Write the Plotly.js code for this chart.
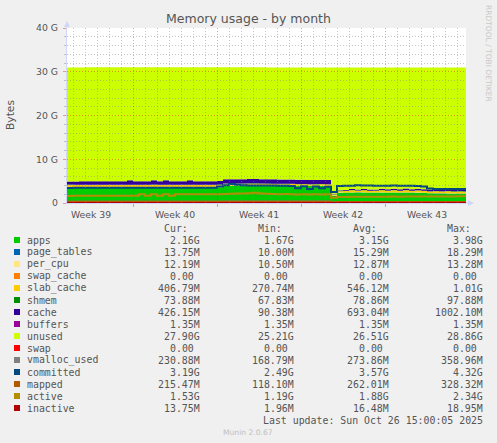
<!DOCTYPE html>
<html><head><meta charset="utf-8">
<script src="https://cdn.plot.ly/plotly-3.0.1.min.js"></script>
<style>html,body{margin:0;padding:0;background:#f0f0f0;}#chart{width:497px;height:443px;}</style>
</head><body><div id="chart"></div>
<script>
// ---------- data (values in G) ----------
const startTime = '2025-09-23 12:00';
const endTime = '2025-10-26 18:00';
const weekTickTimes = ['2025-09-25 12:00','2025-10-02 12:00','2025-10-09 12:00','2025-10-16 12:00','2025-10-23 12:00'];
const weekLabels = ['Week 39','Week 40','Week 41','Week 42','Week 43'];
const yTickVals = [0,10,20,30,40];
const yTickText = ['0','10 G','20 G','30 G','40 G'];

const apps = [3.50,3.52,3.55,3.55,3.54,3.55,3.56,3.55,3.55,3.54,3.56,3.55,3.55,3.54,3.56,3.55,3.56,3.55,3.55,3.54,3.56,3.55,3.55,3.54,3.55,3.58,
  3.90,3.92,3.93,3.95,3.96,3.98,3.95,3.93,3.92,3.90,3.90,3.92,3.88,3.90,3.86,3.88,3.90,3.87,
  1.67,
  2.35,2.38,2.40,2.42,2.40,2.38,2.40,2.41,2.40,2.38,2.37,2.38,2.36,2.35,2.33,
  2.22,2.20,2.20,2.18,2.18,2.17,2.16,2.16];
const slabCache = [0.60,0.55,0.52,0.52,0.53,0.52,0.51,0.52,0.53,0.52,0.52,0.51,0.52,0.52,0.53,0.52,0.52,0.51,0.52,0.53,0.52,0.52,0.51,0.52,0.52,0.50,
  0.45,0.44,0.43,0.42,0.42,0.41,0.40,0.40,0.39,0.38,0.38,0.37,0.37,0.36,0.36,0.35,0.35,0.35,
  0.27,
  0.32,0.33,0.48,0.33,0.48,0.34,0.33,0.48,0.34,0.48,0.34,0.48,0.35,0.48,0.36,
  0.37,0.47,0.38,0.47,0.39,0.46,0.407,0.407];
const cache = [0.70,0.75,0.78,0.78,0.78,0.79,0.78,0.78,0.78,0.79,1.00,0.79,0.78,0.78,1.00,0.79,1.00,0.80,0.80,0.80,0.98,0.80,0.80,0.81,0.80,0.82,
  0.95,0.96,0.97,0.97,0.98,0.98,0.99,1.00,0.99,0.98,0.98,0.97,0.98,0.97,0.97,0.96,0.96,0.95,
  0.09,
  0.15,0.18,0.20,0.22,0.24,0.25,0.27,0.28,0.30,0.31,0.32,0.33,0.34,0.35,0.36,
  0.37,0.38,0.39,0.40,0.41,0.42,0.426,0.426];
const unused = [26.09,26.07,26.04,26.04,26.04,26.03,26.04,26.04,26.03,26.04,25.81,26.04,26.04,26.05,25.80,26.03,25.81,26.03,26.02,26.02,25.83,26.02,26.03,26.02,26.02,25.99,
  25.59,25.57,25.56,25.55,25.53,25.52,25.55,25.56,25.59,25.63,25.63,25.63,25.66,25.66,25.70,25.70,25.68,25.72,
  28.86,
  28.07,28.00,27.81,27.92,27.77,27.92,27.89,27.72,27.85,27.72,27.86,27.70,27.84,27.71,27.84,
  27.93,27.84,27.92,27.84,27.91,27.84,27.90,27.90];
const committed = [3.45,3.46,3.47,3.47,3.48,3.47,3.46,3.47,3.48,3.47,3.47,3.46,3.47,3.48,3.47,3.47,3.46,3.47,3.48,3.47,3.47,3.46,3.47,3.48,3.50,
  3.75,
  4.05,4.32,4.15,4.05,4.00,4.02,4.00,3.98,4.00,3.97,3.95,
  3.90,3.35,3.85,3.20,3.80,3.35,3.70,
  2.49,
  3.90,3.92,3.95,4.05,4.00,3.98,3.97,3.96,3.97,3.98,3.96,3.95,3.95,3.90,3.80,
  3.30,3.22,3.20,3.20,3.21,3.20,3.19,3.19];
const active = [1.62,1.64,1.65,1.65,1.66,1.65,1.64,1.65,1.66,1.65,1.65,1.64,
  2.00,1.66,2.02,1.66,2.02,1.68,
  2.00,2.02,2.00,2.01,2.00,2.02,2.00,2.02,
  2.05,2.10,2.15,2.20,2.25,2.34,2.20,2.10,2.05,2.00,2.05,2.00,1.95,2.00,1.92,2.00,1.95,1.98,
  1.19,
  1.38,1.40,1.42,1.43,1.42,1.44,1.43,1.45,1.44,1.46,1.45,1.47,1.46,1.48,1.47,
  1.48,1.50,1.49,1.51,1.50,1.52,1.53,1.53];

// small series, sampled at fewer points
const sparseIdx = [0,26,44,45,60,67];
const pageTables = [0.017,0.018,0.0098,0.014,0.0135,0.0134];
const perCpu = [0.0125,0.013,0.0103,0.0125,0.012,0.0119];
const swapCache = [0,0,0,0,0,0];
const shmem = [0.078,0.09,0.066,0.075,0.073,0.072];
const buffers = [0.00132,0.00132,0.00132,0.00132,0.00132,0.00132];
const swap = [0,0,0,0,0,0];
const vmallocUsed = [0.29,0.33,0.165,0.24,0.23,0.225];
const mapped = [0.29,0.31,0.115,0.21,0.21,0.21];
const inactive = [0.018,0.018,0.002,0.017,0.014,0.0134];

// legend table
const names = ['apps','page_tables','per_cpu','swap_cache','slab_cache','shmem','cache','buffers','unused','swap','vmalloc_used','committed','mapped','active','inactive'];
const colors = ['#00CC00','#0066B3','#FFE680','#FF8000','#FFCC00','#008F00','#330099','#990099','#CCFF00','#FF0000','#808080','#00487D','#B35A00','#B38F00','#B30000'];
const curVals = ['2.16G','13.75M','12.19M','0.00','406.79M','73.88M','426.15M','1.35M','27.90G','0.00','230.88M','3.19G','215.47M','1.53G','13.75M'];
const minVals = ['1.67G','10.00M','10.50M','0.00','270.74M','67.83M','90.38M','1.35M','25.21G','0.00','168.79M','2.49G','118.10M','1.19G','1.96M'];
const avgVals = ['3.15G','15.29M','12.87M','0.00','546.12M','78.86M','693.04M','1.35M','26.51G','0.00','273.86M','3.57G','262.01M','1.88G','16.48M'];
const maxVals = ['3.98G','18.29M','13.28M','0.00','1.01G','97.88M','1002.10M','1.35M','28.86G','0.00','358.96M','4.32G','328.32M','2.34G','18.95M'];
const headers = ['Cur:','Min:','Avg:','Max:'];
const lastUpdate = 'Last update: Sun Oct 26 15:00:05 2025';

// ---------- build ----------
function tAt(i){
  if (i >= 67) return endTime;
  const ms = Date.UTC(2025,8,23,12) + i*12*3600*1000;
  return new Date(ms).toISOString().slice(0,16).replace('T',' ');
}
const times = apps.map((_, i) => tAt(i));
const sparseTimes = sparseIdx.map(tAt);

const stackSeries = [
  [apps, times], [pageTables, sparseTimes], [perCpu, sparseTimes], [swapCache, sparseTimes],
  [slabCache, times], [shmem, sparseTimes], [cache, times], [buffers, sparseTimes],
  [unused, times], [swap, sparseTimes]
];
const lineSeries = [
  [vmallocUsed, sparseTimes, 10], [committed, times, 11], [mapped, sparseTimes, 12],
  [active, times, 13], [inactive, sparseTimes, 14]
];
const traces = [];
stackSeries.forEach((s, k) => {
  traces.push({type:'scatter', mode:'lines', x:s[1], y:s[0], name:names[k],
    stackgroup:'mem', stackgaps:'interpolate', fillcolor:colors[k],
    line:{width:0, shape:'hv', color:colors[k]}, hoverinfo:'skip', xaxis:'x', yaxis:'y'});
});
lineSeries.forEach(s => {
  traces.push({type:'scatter', mode:'lines', x:s[1], y:s[0], name:names[s[2]],
    line:{width:2, shape:'hv', color:colors[s[2]]}, hoverinfo:'skip', xaxis:'x', yaxis:'y'});
});
// empty trace to register the grid subplot drawn above the data
traces.push({type:'scatter', mode:'lines', x:[], y:[], xaxis:'x2', yaxis:'y2', hoverinfo:'skip', showlegend:false});

const PL = 67, PR = 466, PT = 28, PB = 203;
const px = v => (v - PL) / (PR - PL);
const py = v => (PB - v) / (PB - PT);

const FONT = 'DejaVu Sans, Verdana, sans-serif';
const MONO = 'DejaVu Sans Mono, monospace';
const TXT = '#555555';

const annotations = [];
const shapes = [];
// white canvas under the data (plot backgrounds are transparent so the grid subplot does not hide the data)
shapes.push({type:'rect', xref:'paper', yref:'paper', x0:0, x1:1, y0:0, y1:1, layer:'below',
  fillcolor:'#ffffff', line:{width:0}});
function ann(text, x, y, xanchor, opts){
  annotations.push(Object.assign({text:text, xref:'paper', yref:'paper', x:px(x), y:py(y),
    xanchor:xanchor, yanchor:'middle', showarrow:false, borderpad:0, borderwidth:0,
    font:{family:MONO, size:9.9, color:TXT}}, opts||{}));
}
const colRight = [199.5, 294, 388.5, 483];
const pad = v => /[0-9]$/.test(v) ? v + '\u00a0' : v;
headers.forEach((h, c) => ann(h + '\u00a0\u00a0', colRight[c], 228, 'right'));
names.forEach((n, k) => {
  const y = 240 + 12*k;
  ann(n, 26.5, y, 'left');
  [curVals, minVals, avgVals, maxVals].forEach((arr, c) => ann(pad(arr[k]), colRight[c], y, 'right'));
  shapes.push({type:'rect', xref:'paper', yref:'paper', x0:px(14), x1:px(20), y0:py(y+3), y1:py(y-3),
    fillcolor:colors[k], line:{width:0}, layer:'above'});
});
ann(lastUpdate, 483, 420, 'right');
ann('Munin 2.0.67', 248, 432, 'center', {font:{family:FONT, size:7.6, color:'#c0c0c0'}});
ann('RRDTOOL / TOBI OETIKER', 488.5, 53.5, 'center', {textangle:90, font:{family:FONT, size:7.5, color:'#c8c8c8'}});
ann('Bytes', 10.5, 115.5, 'center', {textangle:-90, font:{family:FONT, size:10.7, color:TXT}});

// axis arrows
const AX = '#cfd6f8';
shapes.push({type:'path', xref:'paper', yref:'paper', layer:'above', fillcolor:AX, line:{width:0},
  path:`M ${px(64)} ${py(27)} L ${px(70)} ${py(27)} L ${px(67)} ${py(21)} Z`});
shapes.push({type:'line', xref:'paper', yref:'paper', layer:'above', line:{color:AX, width:1},
  x0:px(67), x1:px(67), y0:py(28), y1:py(26)});
shapes.push({type:'path', xref:'paper', yref:'paper', layer:'above', fillcolor:AX, line:{width:0},
  path:`M ${px(468)} ${py(200)} L ${px(468)} ${py(206)} L ${px(474)} ${py(203)} Z`});
shapes.push({type:'line', xref:'paper', yref:'paper', layer:'above', line:{color:AX, width:1},
  x0:px(466), x1:px(469), y0:py(203), y1:py(203)});

const MINOR = 'rgba(130,130,130,0.45)';
const MAJOR = 'rgba(225,40,40,0.45)';
const DAY = 86400000;

const layout = {
  width:497, height:443,
  paper_bgcolor:'#f0f0f0', plot_bgcolor:'rgba(0,0,0,0)',
  margin:{l:PL, r:497-PR, t:PT, b:443-PB, pad:0},
  showlegend:false,
  font:{family:FONT, size:9.3, color:TXT},
  title:{text:'Memory usage - by month', x:0.5, xref:'container', xanchor:'center',
    y:1-18.5/443, yref:'container', yanchor:'middle', font:{family:FONT, size:12.5, color:TXT}},
  xaxis:{type:'date', range:[startTime, endTime], domain:[0,1], anchor:'y',
    tickmode:'array', tickvals:weekTickTimes, ticktext:weekLabels, showgrid:false, zeroline:false,
    showline:false, ticks:'', ticklabelstandoff:5, tickfont:{family:FONT, size:9.3, color:TXT}, automargin:false},
  yaxis:{range:[0,40], domain:[0,1], anchor:'x', tickmode:'array', tickvals:yTickVals, ticktext:yTickText,
    showgrid:false, zeroline:false, showline:false, ticks:'', ticklabelstandoff:8,
    tickfont:{family:FONT, size:9.3, color:TXT}, automargin:false},
  xaxis2:{type:'date', range:[startTime, endTime], domain:[0,1], anchor:'y2',
    showticklabels:false, tick0:'2025-09-29', dtick:7*DAY, showgrid:true, gridcolor:MAJOR, gridwidth:1,
    griddash:'1px,2px', ticks:'outside', ticklen:3, tickcolor:MAJOR, zeroline:false,
    showline:true, linecolor:AX, linewidth:1,
    minor:{tick0:'2025-09-29', dtick:DAY, showgrid:true, gridcolor:MINOR, griddash:'1px,2px', gridwidth:1, ticks:''},
    automargin:false},
  yaxis2:{range:[0,40], domain:[0,1], anchor:'x2', showticklabels:false, tick0:0, dtick:10,
    showgrid:true, gridcolor:MAJOR, gridwidth:1, griddash:'1px,2px', ticks:'outside', ticklen:3, tickcolor:MAJOR,
    zeroline:false, showline:true, linecolor:AX, linewidth:1,
    minor:{tick0:0, dtick:2, showgrid:true, gridcolor:MINOR, griddash:'1px,2px', gridwidth:1, ticks:'outside', ticklen:2, tickcolor:MINOR},
    automargin:false},
  annotations:annotations,
  shapes:shapes
};

Plotly.newPlot('chart', traces, layout, {staticPlot:true, displayModeBar:false});
</script></body></html>
